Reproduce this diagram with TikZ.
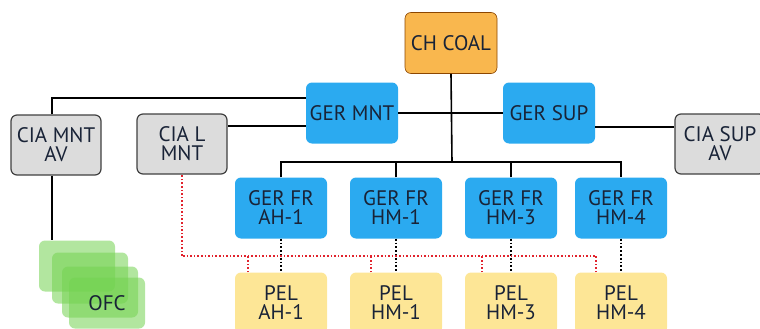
\documentclass[tikz,border=0pt]{standalone}
\usepackage{fontspec}
\setmainfont{PT Sans}
\usetikzlibrary{positioning,calc}
\definecolor{boxblue}{RGB}{43,170,240}
\definecolor{boxorange}{RGB}{249,183,78}
\definecolor{boxgray}{RGB}{220,220,220}
\definecolor{boxyellow}{RGB}{253,230,150}
\definecolor{ofcgreen}{RGB}{115,210,80}
\definecolor{textnavy}{RGB}{25,35,55}
\definecolor{linkred}{RGB}{225,35,45}

\begin{document}
\begin{tikzpicture}[
    x=1pt,
    y=-1pt,
    box/.style={
        rectangle,
        rounded corners=6pt,
        minimum width=92pt,
        minimum height=61pt,
        inner sep=2pt,
        align=center,
        text=textnavy,
        font=\fontsize{21}{19}\selectfont
    },
    ger/.style={box, fill=boxblue},
    cia/.style={box, fill=boxgray, draw=black!75, line width=1.2pt,
        minimum width=90pt, minimum height=60pt},
    pel/.style={box, fill=boxyellow},
    ofc/.style={rectangle, rounded corners=6pt, fill=ofcgreen,
        fill opacity=0.55, text opacity=1, minimum width=76pt,
        minimum height=51pt, text=textnavy,
        font=\fontsize{21}{19}\selectfont},
    link/.style={line width=1.6pt},
    blackdot/.style={line width=1.8pt, dotted},
    reddot/.style={line width=1.6pt, dotted, linkred}
]
\useasboundingbox (0,0) rectangle (760,329);

% Top of the chart
\node[box, fill=boxorange, draw=orange!55!black, line width=0.6pt] (chcoal) at (451,43) {CH COAL};
\node[ger] (germnt) at (352,113) {GER MNT};
\node[ger] (gersup) at (549,113) {GER SUP};

% Side units
\node[cia] (ciamnt) at (56,145) {CIA MNT\\AV};
\node[cia] (cial)   at (182,144) {CIA L\\MNT};
\node[cia] (ciasup) at (720,144) {CIA SUP\\AV};

% Fronts
\node[ger] (frah1) at (281,208) {GER FR\\AH-1};
\node[ger] (frhm1) at (396,208) {GER FR\\HM-1};
\node[ger] (frhm3) at (511,208) {GER FR\\HM-3};
\node[ger] (frhm4) at (621,208) {GER FR\\HM-4};

% Pelotons
\node[pel] (pelah1) at (281,303) {PEL\\AH-1};
\node[pel] (pelhm1) at (396,303) {PEL\\HM-1};
\node[pel] (pelhm3) at (511,303) {PEL\\HM-3};
\node[pel] (pelhm4) at (621,303) {PEL\\HM-4};

% OFC stack
\node[ofc] (ofc1) at (77,266) {};
\node[ofc] (ofc2) at (90,278) {};
\node[ofc] (ofc3) at (100,292) {};
\node[ofc] (ofc4) at (107,303) {OFC};

% Solid links
\coordinate (bus) at (452,162);
\coordinate (redbus) at (183,256);
\draw[link] (chcoal.south) -- (bus);
\draw[link] (germnt.east) -- (gersup.west);
\draw[link] ([xshift=-4pt]ciamnt.north) |- ([yshift=15pt]germnt.west);
\draw[link] ([yshift=-13pt]germnt.west) -- ([yshift=-13pt]germnt.west -| cial.east);
\draw[link] ([yshift=-14pt]gersup.east) -- ([yshift=-14pt]gersup.east -| ciasup.west);
\draw[link] ([xshift=-4pt]ciamnt.south) -- ([xshift=-4pt]ciamnt.south |- ofc1.north);
\draw[link] (frah1.north) |- (bus) -| (frhm4.north);
\foreach \fr in {frhm1,frhm3}
    \draw[link] (\fr.north) -- (\fr.north |- bus);

% Dotted links
\foreach \fr/\pel in {frah1/pelah1,frhm1/pelhm1,frhm3/pelhm3,frhm4/pelhm4}
    \draw[blackdot] (\fr.south) -- (\pel.north);
\draw[reddot] (cial.south |- redbus) -- (cial.south);
\draw[reddot] (redbus) -- (596,256);
\foreach \pel/\dx in {pelah1/-33,pelhm1/-25,pelhm3/-29,pelhm4/-25}
    \draw[reddot] ([xshift=\dx pt]\pel.north) -- ([xshift=\dx pt]\pel.north |- redbus);
\end{tikzpicture}
\end{document}
